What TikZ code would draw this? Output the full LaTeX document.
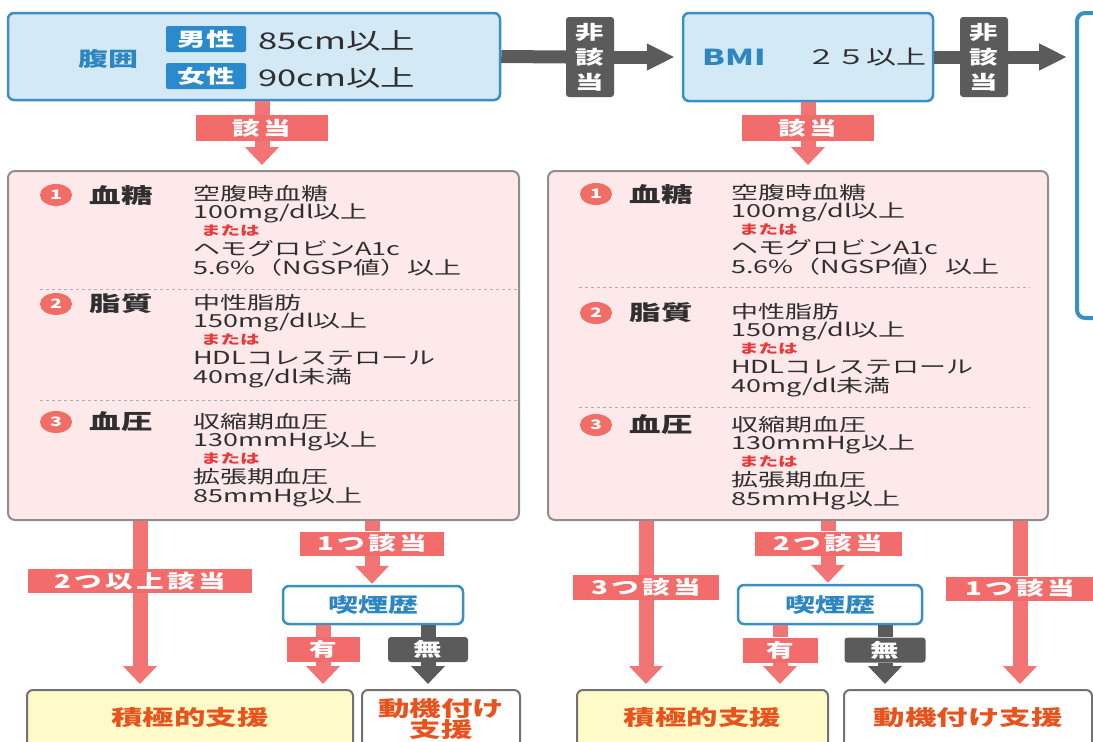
\documentclass[tikz,border=0pt]{standalone}
\usepackage{fontspec}
\usetikzlibrary{arrows.meta,shapes.geometric}
\setmainfont{Noto Sans CJK JP}[FakeStretch=1.5]
\newfontfamily\lblfont{Noto Sans CJK JP}[FakeStretch=1.45,LetterSpace=18]
\definecolor{bluefill}{HTML}{D3E9F5}
\definecolor{blueline}{HTML}{3A8FC3}
\definecolor{bluetext}{HTML}{2E86C1}
\definecolor{tagblue}{HTML}{2B8ACB}
\definecolor{pinkfill}{HTML}{FDE9E9}
\definecolor{boxgray}{HTML}{8E8E8E}
\definecolor{lblpink}{HTML}{F36C6C}
\definecolor{arrpink}{HTML}{F37474}
\definecolor{arrgray}{HTML}{5B5B5B}
\definecolor{txtgray}{HTML}{2F2F2F}
\definecolor{orred}{HTML}{E8521C}
\definecolor{yelfill}{HTML}{FFFBC9}
\definecolor{oredred}{HTML}{E83A3A}
\definecolor{circpink}{HTML}{F06E66}
\begin{document}
\begin{tikzpicture}[x=1pt,y=-1pt,
  bluebox/.style={draw=blueline,line width=2.5pt,fill=bluefill,rounded corners=6pt,inner sep=0pt},
  pinkbox/.style={draw=boxgray,line width=2pt,fill=pinkfill,rounded corners=7pt,inner sep=0pt},
  tagbox/.style={fill=tagblue,text=white,rounded corners=2pt,inner sep=0pt,minimum width=80pt,minimum height=26pt,font=\bfseries\fontsize{19}{19}\selectfont},
  plabel/.style={fill=lblpink,text=white,inner sep=0pt,font=\lblfont\bfseries\fontsize{19}{19}\selectfont},
  glabel/.style={fill=arrgray,text=white,rounded corners=3pt,inner sep=0pt,font=\bfseries\fontsize{19}{19}\selectfont},
  vlabel/.style={glabel,align=center,minimum width=48pt,minimum height=80pt,font=\bfseries\fontsize{19}{25}\selectfont},
  pline/.style={draw=arrpink,line width=15pt},
  parrow/.style={draw=arrpink,line width=15pt,-{Triangle[width=33pt,length=18pt]}},
  gline/.style={draw=arrgray,line width=13pt},
  garrow/.style={draw=arrgray,line width=13pt,-{Triangle[width=25pt,length=28pt]}},
  gvarrow/.style={draw=arrgray,line width=15pt,-{Triangle[width=33pt,length=18pt]}},
  smokebox/.style={draw=blueline,line width=2.5pt,fill=white,rounded corners=6pt,inner sep=0pt,text=bluetext,font=\bfseries\fontsize{20}{20}\selectfont},
  resbox/.style={draw=boxgray!80!black,line width=2pt,rounded corners=6pt,inner sep=0pt},
  restext/.style={text=orred,align=center,font=\bfseries\fontsize{21}{21}\selectfont},
  num/.style={ellipse,fill=circpink,text=white,inner sep=0pt,minimum width=32pt,minimum height=22pt,font=\bfseries\fontsize{13}{13}\selectfont},
  head/.style={anchor=west,text=txtgray,font=\bfseries\fontsize{21}{21}\selectfont},
  body/.style={anchor=north west,align=left,inner sep=0pt,text=txtgray,font=\fontsize{18}{18.5}\selectfont},
  dashline/.style={draw=boxgray!70,dashed,line width=0.8pt}
]
\useasboundingbox (0,0) rectangle (1093,742);
\clip (0,0) rectangle (1093,742);
\newcommand\mata{{\hspace*{8pt}\color{oredred}\bfseries\fontsize{13}{13}\selectfont または}}

% ---------- top row ----------
\node[bluebox,minimum width=492pt,minimum height=87pt] (waist) at (254,56.5) {};
\node[text=bluetext,font=\bfseries\fontsize{20}{20}\selectfont] (fukui) at (108,59) {腹囲};
\node[tagbox] (male) at (206,39) {男性};
\node[tagbox] (female) at (206,76) {女性};
\node[anchor=west,text=txtgray,font=\fontsize{23}{23}\selectfont] (m85) at (255,41) {85cm以上};
\node[anchor=west,text=txtgray,font=\fontsize{23}{23}\selectfont] (f90) at (255,78) {90cm以上};

\node[vlabel] (nh1) at (590,57) {非\\該\\当};
\node[bluebox,minimum width=250pt,minimum height=88pt] (bmi) at (808,57) {};
\node[text=bluetext,font=\bfseries\fontsize{22}{22}\selectfont] (bmit) at (734,57) {BMI};
\node[text=txtgray,font=\fontsize{20}{20}\selectfont] (bmiv) at (866,57) {２５以上};
\node[vlabel] (nh2) at (984,57) {非\\該\\当};
\node[draw=blueline,line width=4pt,fill=white,rounded corners=8pt,minimum width=60pt,minimum height=305pt,inner sep=0pt] (rb) at (1107,165.5) {};

\draw[gline] (waist.east) -- (nh1.west);
\draw[garrow,shorten >=7pt] (nh1.east) -- (bmi.west);
\draw[gline] (bmi.east) -- (nh2.west);
\draw[garrow,shorten >=8pt] (nh2.east) -- (nh2.east -| rb.west);

% ---------- pink boxes ----------
\node[pinkbox,minimum width=511pt,minimum height=349pt] (pinkL) at (263.5,345.5) {};
\node[pinkbox,minimum width=500pt,minimum height=349pt] (pinkR) at (798,345.5) {};

\node[plabel,minimum width=132pt,minimum height=26pt] (g1) at (262,128) {該当};
\draw[pline] (waist.south -| g1) -- (g1.north);
\draw[parrow,shorten >=5pt] (g1.south) -- (g1.south |- pinkL.north);
\node[plabel,minimum width=132pt,minimum height=26pt] (g2) at (808,128) {該当};
\draw[pline] (bmi.south -| g2) -- (g2.north);
\draw[parrow,shorten >=5pt] (g2.south) -- (g2.south |- pinkR.north);

% left contents
\node[num] (l1) at (56,195) {1};
\node[head] (lh1) at (86,195) {血糖};
\node[body] (lb1) at (193,185) {空腹時血糖\\100mg/dl以上\\[-1.5pt]\mata\\[1.5pt]ヘモグロビンA1c\\5.6\%（NGSP値）以上};
\draw[dashline] (40,289) -- (pinkL.east |- 0,289);
\node[num] (l2) at (56,304) {2};
\node[head] (lh2) at (86,304) {脂質};
\node[body] (lb2) at (193,294) {中性脂肪\\150mg/dl以上\\[-1.5pt]\mata\\[1.5pt]HDLコレステロール\\40mg/dl未満};
\draw[dashline] (40,400) -- (pinkL.east |- 0,400);
\node[num] (l3) at (56,422) {3};
\node[head] (lh3) at (86,422) {血圧};
\node[body] (lb3) at (193,413) {収縮期血圧\\130mmHg以上\\[-1.5pt]\mata\\[1.5pt]拡張期血圧\\85mmHg以上};

% right contents
\node[num] (r1) at (596,194) {1};
\node[head] (rh1) at (626,194) {血糖};
\node[body] (rb1) at (731,184) {空腹時血糖\\100mg/dl以上\\[-1.5pt]\mata\\[1.5pt]ヘモグロビンA1c\\5.6\%（NGSP値）以上};
\draw[dashline] (579,287) -- (1030,287);
\node[num] (r2) at (596,313) {2};
\node[head] (rh2) at (626,313) {脂質};
\node[body] (rb2) at (731,303) {中性脂肪\\150mg/dl以上\\[-1.5pt]\mata\\[1.5pt]HDLコレステロール\\40mg/dl未満};
\draw[dashline] (579,407) -- (1030,407);
\node[num] (r3) at (596,425) {3};
\node[head] (rh3) at (626,425) {血圧};
\node[body] (rb3) at (731,416) {収縮期血圧\\130mmHg以上\\[-1.5pt]\mata\\[1.5pt]拡張期血圧\\85mmHg以上};

% ---------- bottom left ----------
\node[resbox,fill=yelfill,minimum width=326pt,minimum height=70pt] (ka1) at (190,725) {};
\node[restext] (ka1t) at (190,718) {積極的支援};
\node[resbox,fill=white,minimum width=158pt,minimum height=70pt] (mo1) at (441,725) {};
\node[restext,font=\bfseries\fontsize{21}{19}\selectfont] (mo1t) at (441,719) {動機付け\\支援};

\node[plabel,minimum width=224pt,minimum height=24pt] (twoL) at (140,581) {2つ以上該当};
\draw[pline] (pinkL.south -| twoL) -- (twoL.north);
\draw[parrow,shorten >=5pt] (twoL.south) -- (twoL.south |- ka1.north);

\node[plabel,minimum width=144pt,minimum height=24pt] (oneL) at (372,543.5) {1つ該当};
\node[smokebox,minimum width=180pt,minimum height=38pt] (smk1) at (373,605) {喫煙歴};
\draw[pline] (pinkL.south -| oneL) -- (oneL.north);
\draw[parrow,shorten >=1pt] (oneL.south) -- (oneL.south |- smk1.north);

\node[plabel,minimum width=73pt,minimum height=25pt] (ari1) at (323,649.5) {有};
\node[glabel,minimum width=80pt,minimum height=25pt] (nai1) at (428,649.5) {無};
\draw[pline] (smk1.south -| ari1) -- (ari1.north);
\draw[parrow,shorten >=5pt] (ari1.south) -- (ari1.south |- ka1.north);
\draw[gline,line width=15pt] (smk1.south -| nai1) -- (nai1.north);
\draw[gvarrow,shorten >=5pt] (nai1.south) -- (nai1.south |- mo1.north);

% ---------- bottom right ----------
\node[resbox,fill=yelfill,minimum width=251pt,minimum height=70pt] (ka2) at (702.5,725) {};
\node[restext] (ka2t) at (702.5,718) {積極的支援};
\node[resbox,fill=white,minimum width=248pt,minimum height=70pt] (mo2) at (968,725) {};
\node[restext] (mo2t) at (968,718) {動機付け支援};

\node[plabel,minimum width=146pt,minimum height=25pt] (threeR) at (646,587.5) {3つ該当};
\draw[pline] (pinkR.south -| threeR) -- (threeR.north);
\draw[parrow,shorten >=5pt] (threeR.south) -- (threeR.south |- ka2.north);

\node[plabel,minimum width=147pt,minimum height=24pt] (twoR) at (828,543.5) {2つ該当};
\node[smokebox,minimum width=184pt,minimum height=39pt] (smk2) at (830,604.5) {喫煙歴};
\draw[pline] (pinkR.south -| twoR) -- (twoR.north);
\draw[parrow,shorten >=1pt] (twoR.south) -- (twoR.south |- smk2.north);

\node[plabel,minimum width=75pt,minimum height=25pt] (ari2) at (780,650) {有};
\node[glabel,minimum width=81pt,minimum height=25pt] (nai2) at (885,650) {無};
\draw[pline] (smk2.south -| ari2) -- (ari2.north);
\draw[parrow,shorten >=5pt] (ari2.south) -- (ari2.south |- ka2.north);
\draw[gline,line width=15pt] (smk2.south -| nai2) -- (nai2.north);
\draw[gvarrow,shorten >=5pt] (nai2.south) -- (nai2.south |- mo2.north);

\node[plabel,minimum width=148pt,minimum height=24pt] (oneR) at (1020,588.5) {1つ該当};
\draw[pline] (pinkR.south -| oneR) -- (oneR.north);
\draw[parrow,shorten >=5pt] (oneR.south) -- (oneR.south |- mo2.north);
\end{tikzpicture}
\end{document}
